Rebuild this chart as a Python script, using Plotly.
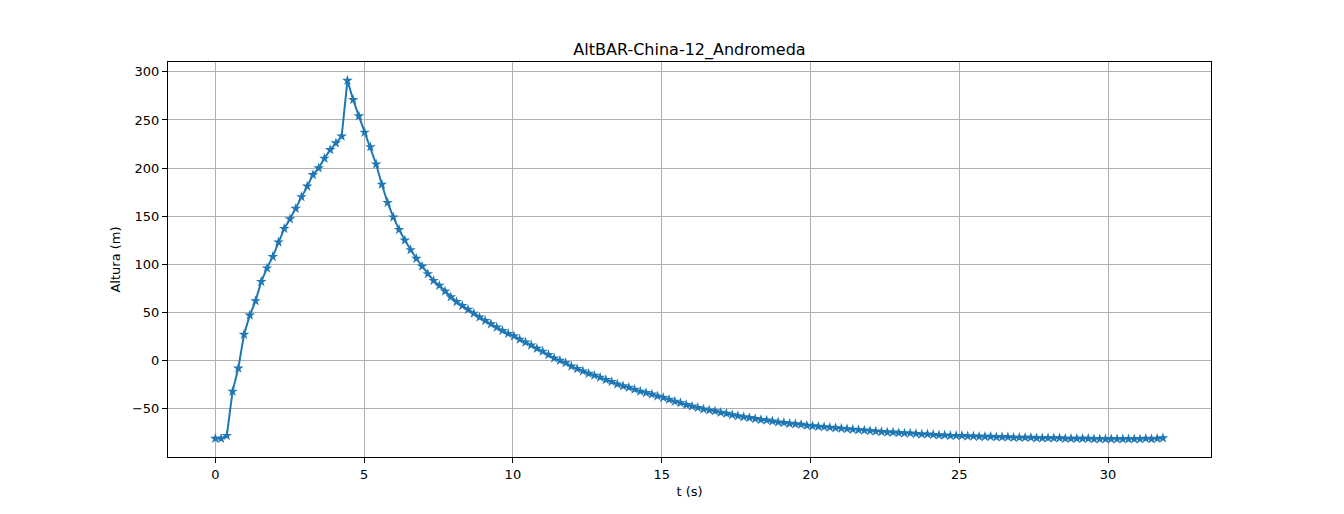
import plotly.graph_objects as go

# sampling of the barometric altitude log
t_inicio = 0.0
dt = 0.193  # s between samples

# altura (m) read sample by sample from the plot
altura = [
    -81, -81, -78, -32, -8, 27, 47, 62, 82, 96,
    108, 123, 137, 147, 158, 170, 181, 193, 200, 210,
    219, 226, 233, 291, 271, 254, 237, 222, 204, 183,
    164, 149, 136, 125, 115, 106, 98, 90, 83, 78,
    72, 66, 61, 57, 53, 49, 45, 41.5, 38, 34.5,
    31, 28, 25.5, 22, 19, 16, 12.5, 9.5, 6, 2.5,
    0, -2.5, -6, -8.5, -11, -13.5, -15.5, -17.5, -20, -22,
    -24.5, -26.5, -28, -30, -32, -33.5, -35, -37, -38.5, -40.5,
    -42.5, -44, -46, -47.5, -49, -50.5, -51.5, -52.5, -54, -55,
    -56.5, -57.5, -58.5, -59.5, -60.5, -61.5, -62, -63, -64, -64.5,
    -65.5, -66, -66.5, -67.5, -68, -68.5, -69, -69.5, -70, -70.5,
    -71, -71.5, -72, -72.5, -73, -73.5, -74, -74.5, -74.5, -75,
    -75.5, -75.5, -76, -76.5, -76.5, -77, -77.5, -77.5, -78, -78,
    -78, -78.5, -78.5, -79, -79, -79, -79.5, -79.5, -79.5, -80,
    -80, -80, -80, -80.5, -80.5, -80.5, -80.5, -80.5, -81, -81,
    -81, -81, -81, -81.5, -81.5, -81.5, -81.5, -81.5, -81.5, -81.5,
    -81.5, -81.5, -81, -81.5, -81, -80.5,
]

x_ticks = [0, 5, 10, 15, 20, 25, 30]
y_ticks = [-50, 0, 50, 100, 150, 200, 250, 300]

azul = '#1f77b4'
fuente = 'DejaVu Sans'

fig = go.Figure(go.Scatter(
    x0=t_inicio, dx=dt, y=altura,
    mode='lines+markers',
    line=dict(color=azul, width=2),
    marker=dict(symbol='star', size=8, color=azul, line=dict(width=0)),
    showlegend=False,
))

eje = dict(
    showgrid=True, gridcolor='#b0b0b0', gridwidth=1,
    zeroline=False,
    showline=True, linecolor='black', linewidth=1, mirror=True,
    ticks='outside', ticklen=5, tickcolor='black', tickwidth=1,
    tickfont=dict(family=fuente, size=13, color='black'),
)

# the page body adds 8px around the figure, so the figure is 16px smaller
fig.update_layout(
    width=1336, height=506,
    paper_bgcolor='white', plot_bgcolor='white',
    margin=dict(l=160, r=133, t=54, b=57),
    title=dict(text='AltBAR-China-12_Andromeda', x=0.5, xref='paper',
               y=1, yref='paper', yanchor='bottom', pad=dict(b=7),
               font=dict(family=fuente, size=16, color='black')),
    xaxis=dict(eje, range=[-1.59, 33.46], tickvals=x_ticks,
               title=dict(text='t (s)', standoff=6,
                          font=dict(family=fuente, size=13, color='black'))),
    yaxis=dict(eje, range=[-100.2, 310.2], tickvals=y_ticks,
               title=dict(text='Altura (m)', standoff=8,
                          font=dict(family=fuente, size=13, color='black'))),
)

fig.write_html("out.html")
